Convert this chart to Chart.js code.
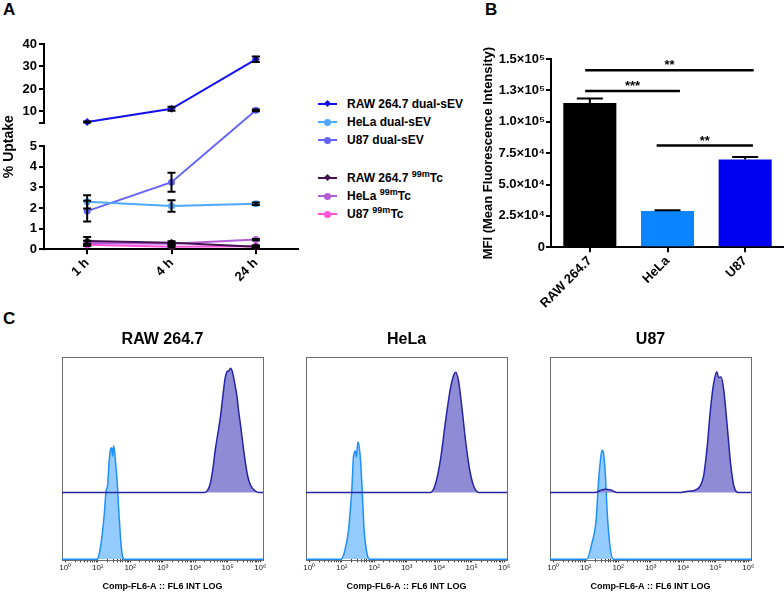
<!DOCTYPE html>
<html><head><meta charset="utf-8">
<script src="https://cdn.jsdelivr.net/npm/chart.js@4.4.1/dist/chart.umd.min.js"></script>
<style>
body{margin:0;background:#fff;}
#wrap{position:relative;width:784px;height:596px;overflow:hidden;font-family:"Liberation Sans",Arial,sans-serif;color:#000;}
canvas{position:absolute;}
.plbl{position:absolute;font-weight:bold;font-size:17px;line-height:17px;}
.li{position:absolute;left:318px;height:16px;line-height:16px;white-space:nowrap;font-weight:bold;font-size:12px;}
.li .ln{position:absolute;left:0;top:7px;width:19px;height:2px;}
.li .mk{position:absolute;left:6px;top:4.5px;width:7px;height:7px;border-radius:50%;}
.li .dm{position:absolute;left:7px;top:5px;width:5px;height:5px;transform:rotate(45deg);}
.li .tx{position:absolute;left:29px;top:0;}
.li sup{font-size:9px;vertical-align:0;position:relative;top:-5px;line-height:0;}
</style>
</head><body>
<div id="wrap">
  <div class="plbl" style="left:3px;top:1px;">A</div>
  <div class="plbl" style="left:485px;top:1px;">B</div>
  <div class="plbl" style="left:3px;top:310px;">C</div>
  <canvas id="cA" width="310" height="290" style="left:0;top:0;width:310px;height:290px;"></canvas>
  <div id="legA"></div>
  <canvas id="cB" width="354" height="300" style="left:430px;top:20px;width:354px;height:300px;"></canvas>
  <canvas id="c1" width="240" height="276" style="left:40px;top:320px;width:240px;height:276px;"></canvas>
  <canvas id="c2" width="240" height="276" style="left:284px;top:320px;width:240px;height:276px;"></canvas>
  <canvas id="c3" width="240" height="276" style="left:528px;top:320px;width:240px;height:276px;"></canvas>
</div>
<script>
// ---------------- DATA ----------------
// Panel A: % uptake over time
const timeLabels = ['1 h', '4 h', '24 h'];
const rawSev = [5.3, 11.2, 33.2];
const rawSevErr = [0.2, 0.9, 1.2];
const helaSev = [2.3, 2.1, 2.2];
const helaSevErr = [0.32, 0.28, 0.06];
const u87Sev = [1.85, 3.25, 10.5];
const u87SevErr = [0.5, 0.46, 0.35];
const rawTc = [0.4, 0.32, 0.12];
const rawTcErr = [0.2, 0.07, 0.05];
const helaTc = [0.3, 0.27, 0.47];
const helaTcErr = [0.12, 0.05, 0.03];
const u87Tc = [0.22, 0.12, 0.15];
const u87TcErr = [0.05, 0.04, 0.03];
const seriesNamesA = ['RAW 264.7 dual-sEV', 'HeLa dual-sEV', 'U87 dual-sEV', 'RAW 264.7 99mTc', 'HeLa 99mTc', 'U87 99mTc'];
const yTicksA = [0, 1, 2, 3, 4, 5, 5.0001, 10, 20, 30, 40];
const yTickLabelsA = ['0', '1', '2', '3', '4', '5', '', '10', '20', '30', '40'];

// Panel B: MFI
const cellLines = ['RAW 264.7', 'HeLa', 'U87'];
const mfiValues = [115000, 29000, 70000];
const mfiErr = [3500, 500, 2000];
const yTicksB = [0, 25000, 50000, 75000, 100000, 125000, 150000];
const yTickLabelsB = ['0', '2.5×10⁴', '5.0×10⁴', '7.5×10⁴', '1.0×10⁵', '1.3×10⁵', '1.5×10⁵'];
const sigFrom = [-0.06, -0.06, 0.86];
const sigTo = [2.11, 1.16, 2.1];
const sigY = [141000, 124500, 81000];
const sigText = ['**', '***', '**'];

// Panel C: flow histograms (x = log10 fluorescence, h = % of panel height)
const histTitles = ['RAW 264.7', 'HeLa', 'U87'];
const cDecadeLabels = ['10⁰', '10¹', '10²', '10³', '10⁴', '10⁵', '10⁶'];
const rawLightLog = [-0.1, 0.98, 1.05, 1.12, 1.2, 1.26, 1.3, 1.35, 1.39, 1.43, 1.46, 1.49, 1.52, 1.56, 1.6, 1.64, 1.68, 1.72, 1.77, 1.82, 6.09];
const rawLightH   = [0, 0, 3, 10, 22, 34, 36, 48, 54, 55, 51, 56, 53, 46, 38, 26, 16, 7, 1, 0, 0];
const rawDarkLog  = [-0.1, 4.3, 4.4, 4.47, 4.55, 4.62, 4.7, 4.78, 4.85, 4.92, 4.98, 5.04, 5.09, 5.14, 5.19, 5.24, 5.29, 5.34, 5.39, 5.47, 5.55, 5.62, 5.7, 5.8, 5.95, 6.09];
const rawDarkH    = [0, 0, 1.5, 4.6, 12, 21, 29, 37.4, 47, 56, 59.6, 60, 61.3, 60, 56.4, 52, 47.3, 40, 34.2, 24, 14.5, 8, 3.8, 1.5, 0, 0];
const helaLightLog = [-0.1, 0.98, 1.1, 1.21, 1.28, 1.31, 1.36, 1.42, 1.45, 1.5, 1.57, 1.62, 1.69, 1.79, 1.86, 6.09];
const helaLightH   = [0, 0, 4.6, 14.4, 27.6, 34, 50.5, 53.5, 50.5, 58, 51, 37.4, 14.4, 2, 0, 0];
const helaDarkLog  = [-0.1, 3.73, 3.88, 4.04, 4.19, 4.34, 4.45, 4.51, 4.6, 4.71, 4.81, 4.94, 5.06, 5.22, 6.09];
const helaDarkH    = [0, 0, 3.8, 16.1, 34.2, 50.6, 58, 59.3, 54.7, 40.7, 26, 11.2, 3.3, 0, 0];
const u87LightLog = [-0.1, 1.03, 1.19, 1.32, 1.39, 1.44, 1.5, 1.55, 1.6, 1.67, 1.75, 1.85, 6.09];
const u87LightH   = [0, 0, 7.9, 19.4, 37.4, 46.9, 53.8, 52, 43, 21, 6.2, 0, 0];
const u87DarkLog  = [-0.1, 1.3, 1.45, 1.6, 1.75, 1.95, 3.9, 4.1, 4.32, 4.53, 4.63, 4.74, 4.84, 4.94, 5.04, 5.09, 5.17, 5.25, 5.35, 5.46, 5.56, 5.71, 6.09];
const u87DarkH    = [0, 0, 1, 1.6, 1.4, 0, 0, 0.5, 0.8, 3.3, 8, 22.5, 40.7, 53.8, 59.6, 56.7, 57, 50.6, 34.2, 14.5, 3.3, 0, 0];

// ---------------- STYLE ----------------
const FF = '"Liberation Sans", Arial, sans-serif';
Chart.defaults.font.family = FF;
Chart.defaults.color = '#000';
const colorsA = ['#1010f0', '#4fa7ff', '#6464ff', '#45104f', '#b45cd8', '#ff52dc'];
const pointStylesA = ['rectRot', 'circle', 'circle', 'rectRot', 'circle', 'circle'];
const BREAK_AT = 5, LOW_FRAC = 0.503, GAP_FRAC = 0.1135;

// Broken linear scale (segment 0..5 below, 5..max above)
class BrokenScale extends Chart.LinearScale {
  getPixelForValue(value) {
    if (value === null || value === undefined || isNaN(value)) return NaN;
    const top = this.top, bottom = this.bottom, h = bottom - top;
    const lowTop = bottom - h * LOW_FRAC;
    const highBottom = lowTop - h * GAP_FRAC;
    if (value <= BREAK_AT) {
      return bottom - (value - this.min) / (BREAK_AT - this.min) * (bottom - lowTop);
    }
    return highBottom - (value - BREAK_AT) / (this.max - BREAK_AT) * (highBottom - top);
  }
  getValueForPixel(pixel) {
    const top = this.top, bottom = this.bottom, h = bottom - top;
    const lowTop = bottom - h * LOW_FRAC;
    const highBottom = lowTop - h * GAP_FRAC;
    if (pixel >= lowTop) return this.min + (bottom - pixel) / (bottom - lowTop) * (BREAK_AT - this.min);
    return BREAK_AT + (highBottom - pixel) / (highBottom - top) * (this.max - BREAK_AT);
  }
}
BrokenScale.id = 'broken';
BrokenScale.defaults = Chart.LinearScale.defaults;
Chart.register(BrokenScale);

// ---------------- PANEL A ----------------
const valsA = [rawSev, helaSev, u87Sev, rawTc, helaTc, u87Tc];
const errsA = [rawSevErr, helaSevErr, u87SevErr, rawTcErr, helaTcErr, u87TcErr];

const brokenAxisPlugin = {
  id: 'brokenAxis',
  afterDraw(chart) {
    const y = chart.scales.y, ctx = chart.ctx, x = Math.round(y.right) - 1;
    ctx.save();
    ctx.strokeStyle = '#000'; ctx.lineWidth = 2;
    ctx.beginPath();
    ctx.moveTo(x, y.getPixelForValue(0) + 1);
    ctx.lineTo(x, y.getPixelForValue(BREAK_AT) - 1);
    ctx.moveTo(x, y.getPixelForValue(BREAK_AT + 0.0001) + 1);
    ctx.lineTo(x, y.getPixelForValue(y.max) - 1);
    ctx.stroke();
    ctx.restore();
  }
};
const errorBarsA = {
  id: 'errA',
  afterDatasetsDraw(chart) {
    const ctx = chart.ctx, y = chart.scales.y;
    ctx.save();
    ctx.strokeStyle = '#000'; ctx.lineWidth = 2;
    chart.data.datasets.forEach((ds, i) => {
      const meta = chart.getDatasetMeta(i);
      meta.data.forEach((pt, j) => {
        const e = errsA[i][j];
        const v = ds.data[j];
        let lo = Math.max(0, v - e);
        if (v > BREAK_AT && lo <= BREAK_AT) lo = BREAK_AT + 0.0001;
        const y1 = y.getPixelForValue(v + e), y2 = y.getPixelForValue(lo);
        ctx.beginPath();
        ctx.moveTo(pt.x, y1); ctx.lineTo(pt.x, y2);
        ctx.moveTo(pt.x - 4, y1); ctx.lineTo(pt.x + 4, y1);
        ctx.moveTo(pt.x - 4, y2); ctx.lineTo(pt.x + 4, y2);
        ctx.stroke();
      });
    });
    ctx.restore();
  }
};

new Chart(document.getElementById('cA'), {
  type: 'line',
  data: {
    labels: timeLabels,
    datasets: valsA.map((d, i) => ({
      label: seriesNamesA[i], data: d,
      borderColor: colorsA[i], backgroundColor: colorsA[i],
      pointStyle: pointStylesA[i], pointRadius: pointStylesA[i] === 'rectRot' ? 4 : 3.5,
      pointBorderWidth: 0, borderWidth: 2, tension: 0
    }))
  },
  options: {
    responsive: false, animation: false, events: [],
    layout: { padding: { top: 44, right: 12, left: 0, bottom: 0 } },
    plugins: { legend: { display: false }, tooltip: { enabled: false } },
    scales: {
      x: {
        offset: true,
        grid: { display: true, drawOnChartArea: false, tickLength: 5, color: '#000', lineWidth: 2 },
        border: { color: '#000', width: 2 },
        ticks: { color: '#000', font: { family: FF, weight: 'bold', size: 13 }, maxRotation: 45, minRotation: 45, padding: 1 },
        afterFit: s => { s.height = 40.7; }
      },
      y: {
        type: 'broken', min: 0, max: 40,
        afterBuildTicks: s => { s.ticks = yTicksA.map(v => ({ value: v })); },
        ticks: { autoSkip: false, callback: (v, i) => yTickLabelsA[i], color: '#000', font: { family: FF, weight: 'bold', size: 13 }, padding: 2 },
        grid: { drawOnChartArea: false, tickLength: 6, color: '#000', lineWidth: 2 },
        border: { display: false },
        title: { display: true, text: '% Uptake', color: '#000', font: { family: FF, weight: 'bold', size: 14 }, padding: { top: 0.6, bottom: 0 } },
        afterFit: s => { s.width = 45; }
      }
    }
  },
  plugins: [brokenAxisPlugin, errorBarsA]
});

// HTML legend for panel A (with superscripts)
const legRows = [104, 122, 140, 178, 196, 214];
const legHtml = seriesNamesA.map((n, i) => {
  const txt = n.replace(' 99mTc', ' <sup>99m</sup>Tc');
  const mk = pointStylesA[i] === 'rectRot'
    ? `<span class="dm" style="background:${colorsA[i]}"></span>`
    : `<span class="mk" style="background:${colorsA[i]}"></span>`;
  return `<div class="li" style="top:${legRows[i] - 8}px"><span class="ln" style="background:${colorsA[i]}"></span>${mk}<span class="tx">${txt}</span></div>`;
}).join('');
document.getElementById('legA').innerHTML = legHtml;

// ---------------- PANEL B ----------------
const barColorsB = ['#000000', '#0a84ff', '#0000f0'];
const annotB = {
  id: 'annotB',
  afterDatasetsDraw(chart) {
    const ctx = chart.ctx, x = chart.scales.x, y = chart.scales.y;
    const meta = chart.getDatasetMeta(0);
    ctx.save();
    ctx.strokeStyle = '#000'; ctx.lineWidth = 2;
    meta.data.forEach((bar, i) => {
      const yTop = y.getPixelForValue(mfiValues[i] + mfiErr[i]);
      const yV = y.getPixelForValue(mfiValues[i]);
      ctx.beginPath();
      ctx.moveTo(bar.x, yV); ctx.lineTo(bar.x, yTop);
      ctx.moveTo(bar.x - 13, yTop); ctx.lineTo(bar.x + 13, yTop);
      ctx.stroke();
    });
    ctx.lineWidth = 2.5;
    ctx.fillStyle = '#000';
    ctx.font = 'bold 13px ' + FF;
    ctx.textAlign = 'center'; ctx.textBaseline = 'alphabetic';
    sigY.forEach((v, k) => {
      const x1 = x.getPixelForValue(sigFrom[k]), x2 = x.getPixelForValue(sigTo[k]);
      const yy = y.getPixelForValue(v);
      ctx.beginPath(); ctx.moveTo(x1, yy); ctx.lineTo(x2, yy); ctx.stroke();
      ctx.fillText(sigText[k], (x1 + x2) / 2, yy - 1);
    });
    ctx.restore();
  }
};
new Chart(document.getElementById('cB'), {
  type: 'bar',
  data: {
    labels: cellLines,
    datasets: [{ data: mfiValues, backgroundColor: barColorsB, borderWidth: 0, categoryPercentage: 1, barPercentage: 0.683 }]
  },
  options: {
    responsive: false, animation: false, events: [],
    layout: { padding: { top: 39, right: 0, left: 0, bottom: 0 } },
    plugins: { legend: { display: false }, tooltip: { enabled: false } },
    scales: {
      x: {
        grid: { display: true, offset: false, drawOnChartArea: false, tickLength: 5, color: '#000', lineWidth: 2 },
        border: { color: '#000', width: 2 },
        ticks: { color: '#000', font: { family: FF, weight: 'bold', size: 13 }, maxRotation: 45, minRotation: 45, padding: 1 },
        afterFit: s => { s.height = 72.7; }
      },
      y: {
        min: 0, max: 150000,
        afterBuildTicks: s => { s.ticks = yTicksB.map(v => ({ value: v })); },
        ticks: { autoSkip: false, callback: (v, i) => yTickLabelsB[i], color: '#000', font: { family: FF, weight: 'bold', size: 13 }, padding: 1 },
        grid: { drawOnChartArea: false, tickLength: 5, color: '#000', lineWidth: 2 },
        border: { color: '#000', width: 2 },
        title: { display: true, text: 'MFI (Mean Fluorescence Intensity)', color: '#000', font: { family: FF, weight: 'bold', size: 13 }, padding: { top: 50.5, bottom: 0 } },
        afterFit: s => { s.width = 121; }
      }
    }
  },
  plugins: [annotB]
});

// ---------------- PANEL C ----------------
const DARK_BASE = 33;
const cTickVals = [];
for (let d = 0; d < 6; d++) for (let m = 1; m <= 9; m++) cTickVals.push(m * Math.pow(10, d));
cTickVals.push(1e6);

const boxPlugin = {
  id: 'box',
  beforeDatasetsDraw(chart) {
    const a = chart.chartArea, ctx = chart.ctx;
    ctx.save();
    ctx.strokeStyle = '#6b6b6b'; ctx.lineWidth = 1;
    ctx.strokeRect(Math.round(a.left) + 0.5, Math.round(a.top) + 0.5, Math.round(a.right - a.left), Math.round(a.bottom - a.top));
    ctx.restore();
  }
};

function makeHist(id, title, lLog, lH, dLog, dH) {
  new Chart(document.getElementById(id), {
    type: 'scatter',
    data: {
      datasets: [
        {
          data: dLog.map((l, i) => ({ x: Math.pow(10, l), y: DARK_BASE + dH[i] })),
          showLine: true, pointRadius: 0, borderColor: '#2424a6', borderWidth: 1.5,
          backgroundColor: '#8f8bd5', fill: { value: DARK_BASE }, cubicInterpolationMode: 'monotone', clip: 3
        },
        {
          data: lLog.map((l, i) => ({ x: Math.pow(10, l), y: lH[i] })),
          showLine: true, pointRadius: 0, borderColor: '#1f8fff', borderWidth: 1.5,
          backgroundColor: '#94ccff', fill: 'origin', cubicInterpolationMode: 'monotone', clip: 3
        }
      ]
    },
    options: {
      responsive: false, animation: false, events: [],
      layout: { padding: { top: 0, right: 17, left: 22, bottom: 0 } },
      plugins: {
        legend: { display: false }, tooltip: { enabled: false },
        title: { display: true, text: title, color: '#000', font: { family: FF, weight: 'bold', size: 16 }, padding: { top: 10.4, bottom: 7.1 } }
      },
      scales: {
        x: {
          type: 'logarithmic', min: Math.pow(10, -0.1), max: Math.pow(10, 6.09),
          afterBuildTicks: s => { s.ticks = cTickVals.map(v => ({ value: v })); },
          ticks: {
            autoSkip: false, maxRotation: 0, minRotation: 0, color: '#222', padding: 1,
            font: { family: FF, size: 8 },
            callback: v => { const e = Math.log10(v); const r = Math.round(e); return Math.abs(e - r) < 1e-9 ? cDecadeLabels[r] : ''; }
          },
          grid: { drawOnChartArea: false, tickLength: 3, color: '#333', lineWidth: 1 },
          border: { display: false },
          title: { display: true, text: 'Comp-FL6-A :: FL6 INT LOG', color: '#000', font: { family: FF, weight: 'bold', size: 9 }, padding: { top: 0, bottom: 3.9 } },
          afterFit: s => { s.height = 36.7; }
        },
        y: { min: 0, max: 100, display: false }
      }
    },
    plugins: [boxPlugin]
  });
}
makeHist('c1', histTitles[0], rawLightLog, rawLightH, rawDarkLog, rawDarkH);
makeHist('c2', histTitles[1], helaLightLog, helaLightH, helaDarkLog, helaDarkH);
makeHist('c3', histTitles[2], u87LightLog, u87LightH, u87DarkLog, u87DarkH);
</script>
</body></html>
